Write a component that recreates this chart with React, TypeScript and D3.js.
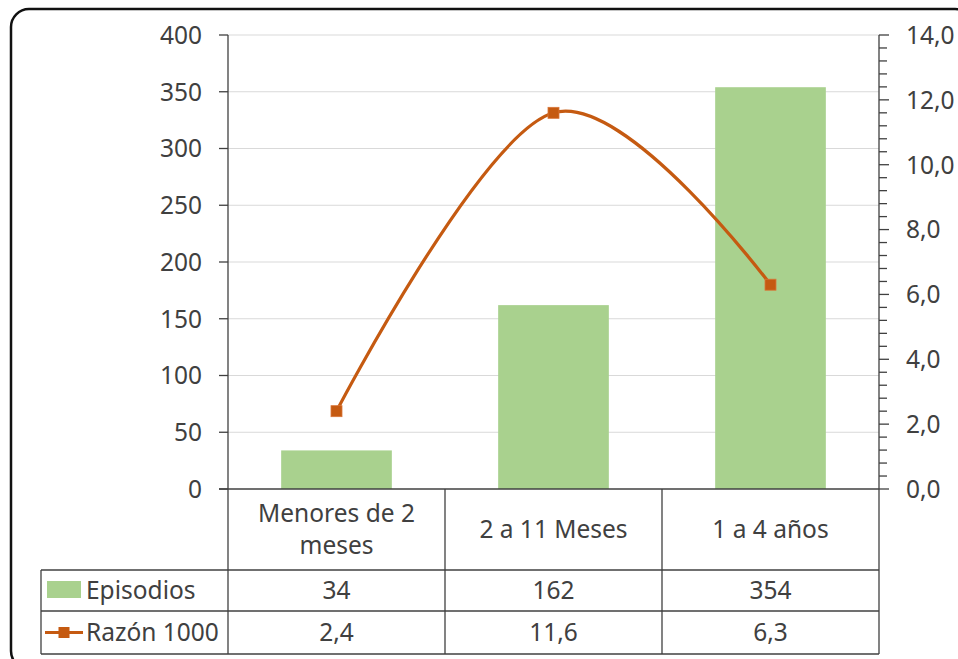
import React from "react";
import * as d3 from "d3";

const categories = [["Menores de 2", "meses"], ["2 a 11 Meses"], ["1 a 4 años"]];
const episodios = [34, 162, 354];
const razon = [2.4, 11.6, 6.3];
const razonLabels = ["2,4", "11,6", "6,3"];
const leftTicks = [0, 50, 100, 150, 200, 250, 300, 350, 400];
const rightTicks = [0, 2, 4, 6, 8, 10, 12, 14];

const W = 958;
const H = 659;
const plot = { left: 228, right: 879, top: 35, bottom: 489 };
const font = "'Noto Sans', 'Open Sans', sans-serif";
const fs = 24.5;
const textColor = "#404040";
const lineColor = "#404040";
const green = "#A9D18E";
const orange = "#C55A11";

const App = () => {
  const idx = categories.map((_, i) => i);
  const x = d3
    .scaleBand<number>()
    .domain(idx)
    .range([plot.left, plot.right])
    .paddingInner(0.49)
    .paddingOuter(0.245);
  const xc = (i: number) => plot.left + ((plot.right - plot.left) / 3) * (i + 0.5);
  const yL = d3.scaleLinear().domain([0, 400]).range([plot.bottom, plot.top]);
  const yR = d3.scaleLinear().domain([0, 14]).range([plot.bottom, plot.top]);

  // Excel default minor unit = major / 5
  const minorTicks = d3.range(0, 14.0001, 0.4);

  const line = d3
    .line<number>()
    .x((_, i) => xc(i))
    .y((d) => yR(d))
    .curve(d3.curveCardinal.tension(0));

  const colEdges = [plot.left, ...idx.map((i) => plot.left + ((plot.right - plot.left) / 3) * (i + 1))];
  const tableLeft = 41;
  const row1 = 570;
  const row2 = 611;
  const tableBottom = 654;

  return (
    <svg width={W} height={H} style={{ display: "block", position: "absolute", left: 0, top: 0 }}>
      <rect x={0} y={0} width={W} height={H} fill="#fff" />
      <rect x={11} y={9} width={962} height={660} rx={18} fill="#fff" stroke="#111" strokeWidth={2.5} />

      {/* gridlines */}
      {leftTicks.slice(1).map((t) => (
        <line key={t} x1={plot.left} x2={plot.right} y1={yL(t)} y2={yL(t)} stroke="#d9d9d9" strokeWidth={1} />
      ))}

      {/* bars */}
      {episodios.map((v, i) => (
        <rect key={i} x={x(i)} y={yL(v)} width={x.bandwidth()} height={yL(0) - yL(v)} fill={green} />
      ))}

      {/* left axis */}
      <line x1={plot.left} x2={plot.left} y1={plot.top} y2={tableBottom} stroke={lineColor} strokeWidth={1.3} />
      {leftTicks.map((t) => (
        <g key={t}>
          <line x1={plot.left - 9} x2={plot.left} y1={yL(t)} y2={yL(t)} stroke={lineColor} strokeWidth={1.3} />
          <text x={202} y={yL(t)} dy="0.36em" textAnchor="end" fontFamily={font} fontSize={fs} fill={textColor}>
            {t}
          </text>
        </g>
      ))}

      {/* right axis */}
      <line x1={plot.right} x2={plot.right} y1={plot.top} y2={tableBottom} stroke={lineColor} strokeWidth={1.3} />
      {minorTicks.map((t, i) => (
        <line key={i} x1={plot.right} x2={plot.right + (i % 5 === 0 ? 10 : 8)} y1={yR(t)} y2={yR(t)} stroke={lineColor} strokeWidth={1.3} />
      ))}
      {rightTicks.map((t) => (
        <text key={t} x={906} y={yR(t)} dy="0.36em" fontFamily={font} fontSize={fs} fill={textColor}>
          {t.toFixed(1).replace(".", ",")}
        </text>
      ))}

      {/* line series */}
      <path d={line(razon) ?? ""} fill="none" stroke={orange} strokeWidth={3.2} />
      {razon.map((v, i) => (
        <rect key={i} x={xc(i) - 5.5} y={yR(v) - 5.5} width={11} height={11} fill={orange} stroke="#d9773a" strokeWidth={0.8} />
      ))}

      {/* data table */}
      <line x1={plot.left - 9} x2={plot.right} y1={plot.bottom} y2={plot.bottom} stroke={lineColor} strokeWidth={1.3} />
      {[row1, row2, tableBottom].map((y) => (
        <line key={y} x1={tableLeft} x2={plot.right} y1={y} y2={y} stroke={lineColor} strokeWidth={1.3} />
      ))}
      <line x1={tableLeft} x2={tableLeft} y1={row1} y2={tableBottom} stroke={lineColor} strokeWidth={1.3} />
      {colEdges.slice(1, 3).map((cx) => (
        <line key={cx} x1={cx} x2={cx} y1={plot.bottom} y2={tableBottom} stroke={lineColor} strokeWidth={1.3} />
      ))}

      {categories.map((lines, i) => (
        <text key={i} x={xc(i)} textAnchor="middle" fontFamily={font} fontSize={fs} fill={textColor}>
          {lines.map((l, j) => (
            <tspan key={j} x={xc(i)} y={(plot.bottom + row1) / 2 - ((lines.length - 1) * 32) / 2 + j * 32} dy="0.36em">
              {l}
            </tspan>
          ))}
        </text>
      ))}

      {/* legend keys */}
      <rect x={47} y={581} width={34} height={17} fill={green} />
      <text x={86} y={(row1 + row2) / 2} dy="0.36em" fontFamily={font} fontSize={fs} fill={textColor}>
        Episodios
      </text>
      <line x1={45} x2={83} y1={(row2 + tableBottom) / 2} y2={(row2 + tableBottom) / 2} stroke={orange} strokeWidth={3} />
      <rect x={58.5} y={(row2 + tableBottom) / 2 - 5.5} width={11} height={11} fill={orange} />
      <text x={86} y={(row2 + tableBottom) / 2} dy="0.36em" fontFamily={font} fontSize={fs} fill={textColor}>
        Razón 1000
      </text>

      {episodios.map((v, i) => (
        <text key={i} x={xc(i)} y={(row1 + row2) / 2} dy="0.36em" textAnchor="middle" fontFamily={font} fontSize={fs} fill={textColor}>
          {v}
        </text>
      ))}
      {razonLabels.map((v, i) => (
        <text key={i} x={xc(i)} y={(row2 + tableBottom) / 2} dy="0.36em" textAnchor="middle" fontFamily={font} fontSize={fs} fill={textColor}>
          {v}
        </text>
      ))}
    </svg>
  );
};

export default App;
